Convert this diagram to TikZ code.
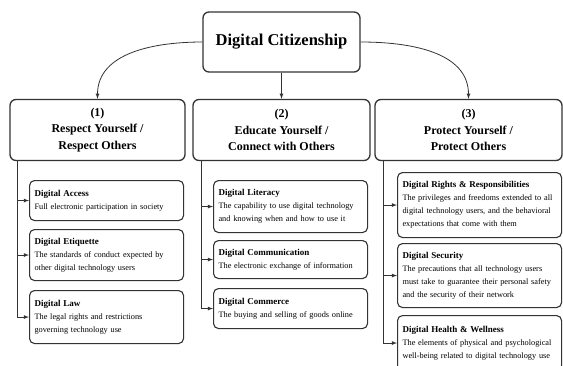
\documentclass[tikz,border=0pt]{standalone}
\usepackage{fontspec}
\setmainfont{Liberation Serif}
\usepackage{tikz}
\usetikzlibrary{positioning}

\definecolor{linegray}{HTML}{333333}
\newcommand{\itemtitle}[1]{{\bfseries\fontsize{9}{13}\selectfont #1}}
\tikzset{
  topbox/.style={draw=linegray,line width=1.3pt,rounded corners=6pt,minimum width=157pt,minimum height=60pt,font=\bfseries\fontsize{16.5}{20}\selectfont},
  catbox/.style={draw=linegray,line width=1.3pt,rounded corners=6pt,minimum height=61pt,align=center,font=\bfseries\fontsize{12}{16.5}\selectfont},
  itembox/.style={draw=linegray,line width=1.1pt,rounded corners=5pt,anchor=north west,inner xsep=5pt,align=left,font=\fontsize{8.3}{13}\selectfont},
  arr/.style={-latex,line width=0.8pt,draw=linegray}
}

\begin{document}
\begin{tikzpicture}[x=1pt,y=-1pt]
  \useasboundingbox (0,0) rectangle (563,365);
  \node (root) [topbox] at (281.5,42) {Digital Citizenship};
  \node (cat1) [catbox,minimum width=175pt] at (97.5,130) {(1)\\Respect Yourself /\\Respect Others};
  \node (cat2) [catbox,minimum width=177pt] at (281.5,130) {(2)\\Educate Yourself /\\Connect with Others};
  \node (cat3) [catbox,minimum width=187pt] at (468.5,130) {(3)\\Protect Yourself /\\Protect Others};
  \draw [arr] (root.west) to[out=180,in=90] (cat1.north);
  \draw [arr] (root.south) to (cat2.north);
  \draw [arr] (root.east) to[out=0,in=90] (cat3.north);
  % respect
  \node (access) [itembox,text width=144pt,minimum height=40pt] at (29,180) {\itemtitle{Digital Access}\\Full electronic participation in society};
  \node (etiquette) [itembox,text width=144pt,minimum height=51pt] at (29,229) {\itemtitle{Digital Etiquette}\\The standards of conduct expected by\\other digital technology users};
  \node (law) [itembox,text width=144pt,minimum height=53pt] at (29,290) {\itemtitle{Digital Law}\\The legal rights and restrictions\\governing technology use};
  % educate
  \node (literacy) [itembox,text width=144pt,minimum height=52pt] at (213,180) {\itemtitle{Digital Literacy}\\The capability to use digital technology\\and knowing when and how to use it};
  \node (communication) [itembox,text width=144pt,minimum height=38pt] at (213,240) {\itemtitle{Digital Communication}\\The electronic exchange of information};
  \node (commerce) [itembox,text width=144pt,minimum height=40pt] at (213,288) {\itemtitle{Digital Commerce}\\The buying and selling of goods online};
  % protect
  \node (rights) [itembox,text width=154pt,minimum height=65pt] at (397,172) {\itemtitle{Digital Rights \& Responsibilities}\\The privileges and freedoms extended to all\\digital technology users, and the behavioral\\expectations that come with them};
  \node (security) [itembox,text width=154pt,minimum height=64pt] at (397,243) {\itemtitle{Digital Security}\\The precautions that all technology users\\must take to guarantee their personal safety\\and the security of their network};
  \node (health) [itembox,text width=154pt,minimum height=55pt] at (397,315) {\itemtitle{Digital Health \& Wellness}\\The elements of physical and psychological\\well-being related to digital technology use};
  \coordinate (l1) at ([xshift=8pt]cat1.south west);
  \coordinate (l2) at ([xshift=9pt]cat2.south west);
  \coordinate (l3) at ([xshift=9pt]cat3.south west);
  \foreach \item in {access,etiquette,law} \draw [arr] (l1) |- (\item.west);
  \foreach \item in {literacy,communication,commerce} \draw [arr] (l2) |- (\item.west);
  \foreach \item in {rights,security,health} \draw [arr] (l3) |- (\item.west);
\end{tikzpicture}
\end{document}
